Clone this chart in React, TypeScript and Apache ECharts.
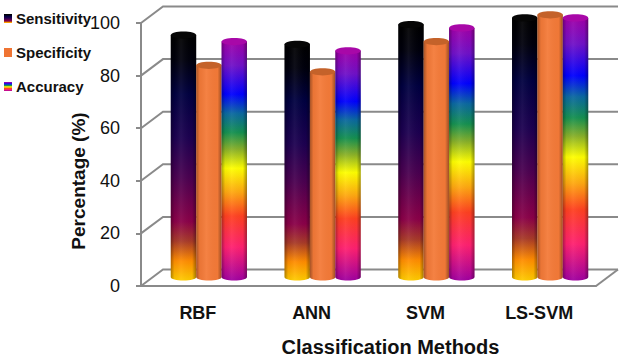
import React, { useEffect, useRef } from "react";
import * as echarts from "echarts";

const categories = ["RBF", "ANN", "SVM", "LS-SVM"];
const sensitivity = [92, 88.5, 96, 98.5];
const specificity = [80.5, 78, 89.5, 99.7];
const accuracy = [89.5, 86, 94.7, 98.5];
const yTicks = [0, 20, 40, 60, 80, 100];

const grad = (stops: [number, string][]) =>
  new echarts.graphic.LinearGradient(0, 0, 0, 1, stops.map(([offset, color]) => ({ offset, color })));

const nightfall = (): any =>
  grad([
    [0, "#000000"],
    [0.1, "#00000c"],
    [0.24, "#000040"],
    [0.42, "#1c0050"],
    [0.58, "#4a0050"],
    [0.76, "#8a0048"],
    [0.84, "#a83a28"],
    [0.92, "#ff8c00"],
    [1, "#ffcc00"],
  ]);
const rainbow = (): any =>
  grad([
    [0, "#a000a8"],
    [0.1, "#7010c8"],
    [0.22, "#0000ff"],
    [0.3, "#0a68a0"],
    [0.38, "#149050"],
    [0.45, "#88b028"],
    [0.53, "#ffff00"],
    [0.63, "#ffa810"],
    [0.73, "#ff4020"],
    [0.86, "#ff2070"],
    [1, "#a000a0"],
  ]);
const orangeFill = (): any => "#f47a38";

const CAP = { orange: "#c4622a", night: "#060606", rain: "#a808a8" };

echarts.graphic.registerShape(
  "cylBody",
  echarts.graphic.extendShape({
    shape: { x: 0, y: 0, w: 0, h: 0, ry: 0 },
    buildPath(ctx: any, s: any) {
      const k = 0.5523;
      const rx = s.w / 2;
      ctx.moveTo(s.x, s.y);
      ctx.lineTo(s.x + s.w, s.y);
      ctx.lineTo(s.x + s.w, s.y + s.h);
      ctx.bezierCurveTo(s.x + s.w, s.y + s.h + k * s.ry, s.x + rx + k * rx, s.y + s.h + s.ry, s.x + rx, s.y + s.h + s.ry);
      ctx.bezierCurveTo(s.x + rx - k * rx, s.y + s.h + s.ry, s.x, s.y + s.h + k * s.ry, s.x, s.y + s.h);
      ctx.closePath();
    },
  }) as any
);

const BAR_W = 25.4;
const BAR_DX = 11;
const BAR_DY = -9;
const DEPTH_X = 22;
const DEPTH_Y = -16.5;
const GRAY = "#8a8a8a";

const cylinder = (slot: number, fill: () => any, cap: string) => (params: any, api: any) => {
  const idx = api.value(0);
  const [cx, yTop] = api.coord([idx, api.value(1)]);
  const [, yBase] = api.coord([idx, 0]);
  const x = cx + BAR_DX + (slot - 1.5) * BAR_W;
  const top = yTop + BAR_DY;
  const base = yBase + BAR_DY;
  const shape = { x, y: top, w: BAR_W, h: base - top, ry: 3.6 };
  return {
    type: "group",
    children: [
      { type: "cylBody", shape, style: { fill: fill() } },
      {
        type: "cylBody",
        shape,
        style: {
          fill: new echarts.graphic.LinearGradient(0, 0, 1, 0, [
            { offset: 0, color: "rgba(0,0,0,0.32)" },
            { offset: 0.14, color: "rgba(0,0,0,0.04)" },
            { offset: 0.4, color: "rgba(255,255,255,0.06)" },
            { offset: 0.84, color: "rgba(0,0,0,0.02)" },
            { offset: 1, color: "rgba(0,0,0,0.36)" },
          ]),
        },
      },
      {
        type: "ellipse",
        shape: { cx: x + BAR_W / 2, cy: top, rx: BAR_W / 2, ry: 3.6 },
        style: { fill: cap },
      },
    ],
  };
};

const walls = (params: any, api: any) => {
  const v = api.value(1);
  const cs = params.coordSys;
  const y = api.coord([0, v])[1];
  const left = cs.x;
  const right = cs.x + cs.width;
  const pts: number[][] = [
    [left, y],
    [left + DEPTH_X, y + DEPTH_Y],
    [right + DEPTH_X, y + DEPTH_Y],
  ];
  const children: any[] = [
    { type: "polyline", shape: { points: pts }, style: { stroke: GRAY, lineWidth: 2, fill: "none" } },
  ];
  if (v === 0) {
    children.push({
      type: "line",
      shape: { x1: right, y1: y, x2: right + DEPTH_X, y2: y + DEPTH_Y },
      style: { stroke: GRAY, lineWidth: 2 },
    });
  }
  return { type: "group", children };
};

const toData = (a: number[]) => a.map((v, i) => [i, v]);

export default function App() {
  const ref = useRef<HTMLDivElement>(null);
  useEffect(() => {
    const chart = echarts.init(ref.current!, null, { renderer: "svg" });
    const bold = { fontFamily: "Liberation Sans", fontWeight: "bold" as const, color: "#111" };
    chart.setOption({
      animation: false,
      backgroundColor: "#fff",
      grid: { left: 141, right: 28, top: 23, bottom: 73, outerBoundsMode: "none" },
      legend: {
        orient: "vertical",
        left: 4,
        top: 11,
        padding: 0,
        itemWidth: 8,
        itemHeight: 9,
        itemGap: 19,
        icon: "rect",
        textStyle: { ...bold, fontSize: 15, padding: [0, 0, 0, -1] },
        data: [
          { name: "Sensitivity", itemStyle: { color: nightfall() } },
          { name: "Specificity", itemStyle: { color: "#ef7433" } },
          { name: "Accuracy", itemStyle: { color: rainbow() } },
        ],
      },
      xAxis: {
        type: "category",
        data: categories,
        name: "Classification Methods",
        nameLocation: "middle",
        nameGap: 51,
        nameMoveOverlap: false,
        nameTextStyle: { ...bold, fontSize: 20, padding: [0, 0, 0, 44] },
        axisLine: { lineStyle: { color: GRAY, width: 2 } },
        axisTick: { length: 6, lineStyle: { color: GRAY, width: 2 }, alignWithLabel: false },
        axisLabel: { ...bold, fontSize: 18, margin: 18 },
      },
      yAxis: {
        type: "value",
        min: 0,
        max: 100,
        interval: 20,
        name: "Percentage (%)",
        nameLocation: "middle",
        nameGap: 53,
        nameMoveOverlap: false,
        nameTextStyle: { ...bold, fontSize: 19, padding: [0, 53, 0, 0] },
        axisLine: { show: true, lineStyle: { color: GRAY, width: 2 } },
        axisTick: { show: true, length: 5, lineStyle: { color: GRAY, width: 2 } },
        axisLabel: { fontFamily: "Liberation Sans", fontSize: 18, color: "#111", margin: 21, padding: [3, 0, 0, 0] },
        splitLine: { show: false },
      },
      series: [
        { type: "custom", name: "walls", silent: true, z: 1, clip: false, data: yTicks.map((v) => [0, v]), renderItem: walls, encode: { x: 0, y: 1 } },
        { type: "custom", name: "Sensitivity", z: 3, clip: false, itemStyle: { color: "#000" }, data: toData(sensitivity), renderItem: cylinder(0, nightfall, CAP.night), encode: { x: 0, y: 1 } },
        { type: "custom", name: "Specificity", z: 4, clip: false, itemStyle: { color: "#ef7433" }, data: toData(specificity), renderItem: cylinder(1, orangeFill, CAP.orange), encode: { x: 0, y: 1 } },
        { type: "custom", name: "Accuracy", z: 5, clip: false, itemStyle: { color: "#a000a0" }, data: toData(accuracy), renderItem: cylinder(2, rainbow, CAP.rain), encode: { x: 0, y: 1 } },
      ],
    });
    return () => chart.dispose();
  }, []);
  return <div ref={ref} style={{ position: "absolute", left: 0, top: 0, width: 624, height: 359 }} />;
}
